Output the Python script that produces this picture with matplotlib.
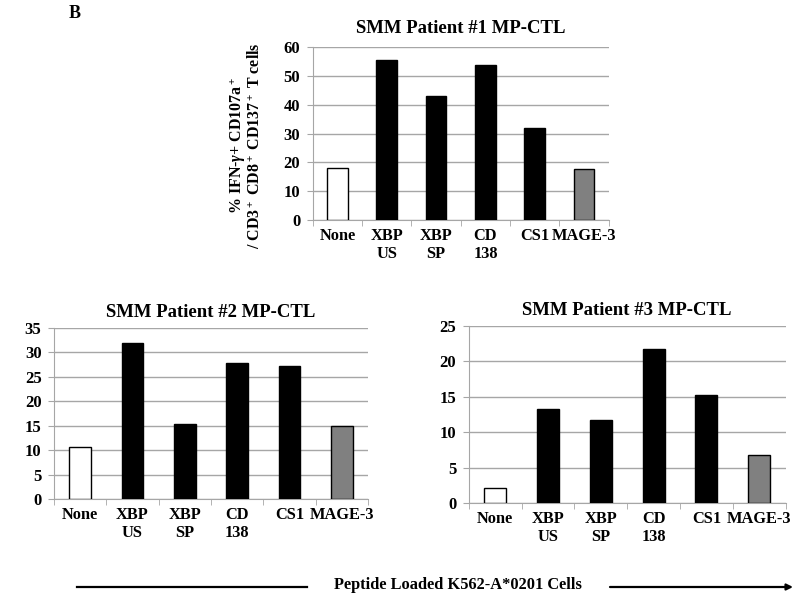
import matplotlib
matplotlib.use("Agg")
import matplotlib.pyplot as plt
import numpy as np
from matplotlib.lines import Line2D
from matplotlib.patches import FancyArrowPatch

plt.rcParams['font.family'] = ['Liberation Serif', 'DejaVu Serif']
plt.rcParams['font.weight'] = 'bold'
plt.rcParams['mathtext.fontset'] = 'custom'
plt.rcParams['mathtext.rm'] = 'Liberation Serif:bold'
plt.rcParams['mathtext.it'] = 'Liberation Serif:italic:bold'
plt.rcParams['mathtext.bf'] = 'Liberation Serif:bold'

categories = ["None", "XBP\nUS", "XBP\nSP", "CD\n138", "CS1", "MAGE-3"]
bar_colors = ["white", "black", "black", "black", "black", "#808080"]

patient1 = [18.0, 55.5, 43.2, 54.0, 32.1, 17.9]
patient2 = [10.6, 32.0, 15.3, 27.8, 27.3, 15.0]
patient3 = [2.1, 13.3, 11.7, 21.7, 15.3, 6.7]

titles = ["SMM Patient #1 MP-CTL", "SMM Patient #2 MP-CTL", "SMM Patient #3 MP-CTL"]
ymax = [60, 35, 25]
ystep = [10, 5, 5]

fig = plt.figure(figsize=(8, 5.98), dpi=100)

boxes = [
    [0.391, 0.632, 0.370, 0.289],
    [0.0675, 0.1656, 0.3925, 0.286],
    [0.586, 0.159, 0.396, 0.296],
]

grid_col = "#a6a6a6"

for i, (box, vals, title, top, step) in enumerate(zip(boxes, [patient1, patient2, patient3], titles, ymax, ystep)):
    ax = fig.add_axes(box)
    x = np.arange(len(categories))
    ax.bar(x, vals, width=0.42, color=bar_colors, edgecolor="black", linewidth=1, zorder=3)
    ax.set_xlim(-0.5, len(categories) - 0.5)
    ax.set_ylim(0, top)
    ax.set_yticks(np.arange(0, top + 1, step))
    ax.yaxis.grid(True, color=grid_col, linewidth=1)
    ax.set_axisbelow(True)
    ax.set_xticks(x)
    ax.set_xticklabels(categories, fontsize=11.8, fontweight="bold", linespacing=1.12, va="top")
    ax.set_xticks(np.arange(-0.5, len(categories)), minor=True)
    ax.tick_params(axis="x", which="major", length=0, pad=6)
    ax.tick_params(axis="x", which="minor", length=4, color=grid_col, direction="out")
    ax.tick_params(axis="y", length=4, color=grid_col, labelsize=12, pad=5)
    for lab in ax.get_yticklabels():
        lab.set_fontweight("bold")
    for s in ["top", "right"]:
        ax.spines[s].set_visible(False)
    ax.spines["left"].set_color(grid_col)
    ax.spines["bottom"].set_color(grid_col)
    ax.set_title(title, fontsize=13.5, fontweight="bold", pad=10 if i == 0 else 8)
    if i == 0:
        ax.set_ylabel("% IFN-$\\gamma$+ CD107a$^+$\n/ CD3$^+$ CD8$^+$ CD137$^+$ T cells",
                      fontsize=11.5, fontweight="bold", linespacing=0.95)
        ax.yaxis.label.set_va("center")
        ax.yaxis.set_label_coords(-0.228, 0.43)

fig.text(75 / 800, 1 - 13 / 598, "B", fontsize=13, fontweight="bold", ha="center", va="center")

# bottom arrow annotation
ya = 1 - 587 / 598
fig.add_artist(Line2D([77 / 800, 307 / 800], [ya, ya], color="black", linewidth=1.6))
fig.text(458 / 800, 1 - 585 / 598, "Peptide Loaded K562-A*0201 Cells", fontsize=11.8,
         fontweight="bold", ha="center", va="center")
fig.add_artist(FancyArrowPatch((610 / 800, ya), (793 / 800, ya),
                               transform=fig.transFigure,
                               arrowstyle="-|>", mutation_scale=9,
                               color="black", linewidth=1.6, shrinkA=0, shrinkB=0))

fig.savefig("out.png", dpi=100)
